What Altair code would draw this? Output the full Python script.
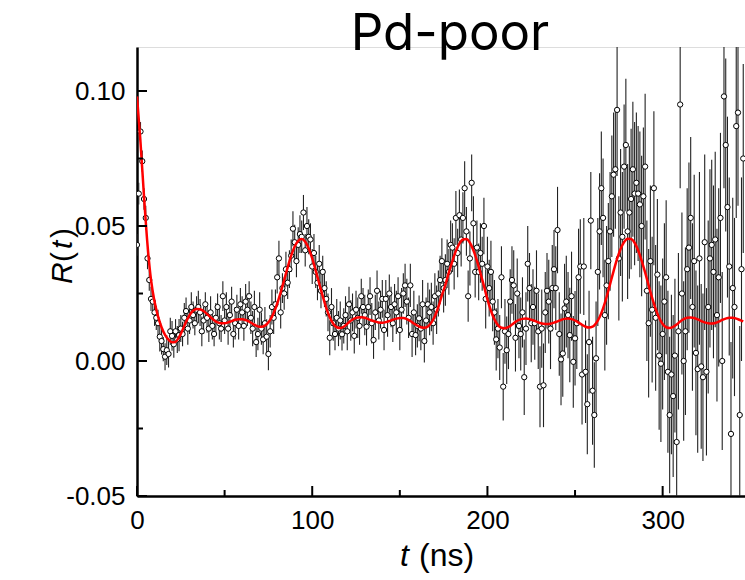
import altair as alt
import pandas as pd

TITLE = "Pd-poor"
X_TITLE_ITALIC = "t"
X_TITLE_REST = "(ns)"
Y_TITLE_PARTS = ["R", "(", "t", ")"]
Y_TITLE_STYLE = ["italic", "normal", "italic", "normal"]

# measured time bins (ns)
t_data = list(range(0, 347))

r_rows = [
    [0.043, 0.062, 0.085, 0.074, 0.060, 0.053, 0.038, 0.030, 0.023, 0.022],
    [0.018, 0.016, 0.014, 0.009, 0.0074, 0.0044, 0.0016, 0.004, 0.0026, 0.011],
    [0.0093, 0.0062, 0.011, 0.008, 0.0096, 0.012, 0.010, 0.016, 0.0185, 0.012],
    [0.015, 0.020, 0.017, 0.014, 0.019, 0.020, 0.018, 0.011, 0.015, 0.021],
    [0.016, 0.012, 0.018, 0.013, 0.010, 0.016, 0.020, 0.014, 0.012, 0.024],
    [0.015, 0.020, 0.012, 0.017, 0.022, 0.010, 0.014, 0.019, 0.013, 0.021],
    [0.018, 0.013, 0.022, 0.019, 0.024, 0.016, 0.012, 0.020, 0.007, 0.010],
    [0.019, 0.012, 0.008, 0.014, 0.009, 0.0026, 0.011, 0.020, 0.016, 0.021],
    [0.031, 0.038, 0.018, 0.027, 0.025, 0.034, 0.029, 0.034, 0.039, 0.049],
    [0.044, 0.037, 0.043, 0.047, 0.046, 0.055, 0.041, 0.050, 0.046, 0.045],
    [0.035, 0.040, 0.033, 0.029, 0.036, 0.026, 0.033, 0.027, 0.023, 0.018],
    [0.0086, 0.020, 0.014, 0.010, 0.016, 0.012, 0.015, 0.0099, 0.013, 0.017],
    [0.011, 0.021, 0.015, 0.018, 0.0093, 0.019, 0.016, 0.013, 0.024, 0.020],
    [0.017, 0.0127, 0.020, 0.024, 0.014, 0.0078, 0.018, 0.026, 0.015, 0.019],
    [0.023, 0.0115, 0.023, 0.017, 0.025, 0.020, 0.014, 0.021, 0.018, 0.024],
    [0.0115, 0.019, 0.025, 0.028, 0.022, 0.016, 0.028, 0.010, 0.018, 0.0096],
    [0.013, 0.0158, 0.012, 0.021, 0.0074, 0.015, 0.021, 0.018, 0.020, 0.014],
    [0.024, 0.019, 0.025, 0.030, 0.037, 0.027, 0.030, 0.036, 0.033, 0.043],
    [0.042, 0.036, 0.053, 0.040, 0.054, 0.045, 0.053, 0.064, 0.048, 0.024],
    [0.038, 0.066, 0.051, 0.033, 0.042, 0.033, 0.040, 0.036, 0.050, 0.023],
    [0.035, 0.027, 0.033, 0.022, 0.018, 0.008, 0.012, 0.005, 0.031, -0.0095],
    [0.011, 0.004, 0.010, 0.022, 0.030, 0.028, 0.0086, 0.025, 0.013, 0.010],
    [0.018, -0.006, 0.012, 0.036, 0.027, 0.014, 0.020, 0.014, 0.026, 0.011],
    [-0.0095, 0.012, -0.009, 0.018, 0.026, 0.022, 0.012, 0.027, 0.034, 0.027],
    [0.0485, 0.010, 0.0006, 0.0028, 0.0195, 0.022, 0.017, 0.0096, 0.024, -0.0003],
    [0.0084, 0.014, 0.031, 0.035, -0.005, 0.035, -0.004, -0.016, 0.007, 0.052],
    [-0.011, -0.020, 0.001, 0.033, 0.048, 0.064, 0.053, 0.017, 0.028, 0.037],
    [0.048, 0.061, 0.069, 0.071, 0.093, 0.038, 0.055, 0.046, 0.072, 0.080],
    [0.048, 0.055, 0.060, 0.071, 0.062, 0.066, 0.062, 0.058, 0.050, 0.061],
    [0.072, 0.026, 0.014, 0.037, 0.019, 0.064, 0.016, 0.032, 0.002, -0.001],
    [0.010, 0.022, 0.031, -0.004, -0.020, -0.005, -0.013, 0.002, -0.030, 0.011],
    [0.095, 0.025, 0.000, 0.011, 0.034, 0.042, 0.053, 0.020, 0.037, 0.003],
    [-0.003, 0.038, -0.002, -0.006, 0.044, -0.004, 0.020, 0.038, 0.043, 0.033],
    [0.045, 0.017, 0.031, 0.053, 0.000, 0.098, 0.080, 0.057, 0.035, -0.027],
    [0.027, 0.020, 0.087, 0.092, -0.020, 0.034, 0.075],
]

err_rows = [
    [0.004, 0.004, 0.0035, 0.004, 0.004, 0.0045, 0.004, 0.004, 0.0045, 0.004],
    [0.005, 0.0045, 0.005, 0.0055, 0.005, 0.0045, 0.005, 0.0055, 0.005, 0.005],
    [0.0055, 0.005, 0.0045, 0.005, 0.006, 0.005, 0.0045, 0.0055, 0.005, 0.006],
    [0.005, 0.0055, 0.005, 0.0045, 0.005, 0.006, 0.005, 0.0055, 0.005, 0.0045],
    [0.0055, 0.005, 0.006, 0.005, 0.0045, 0.0055, 0.005, 0.006, 0.005, 0.0055],
    [0.005, 0.0055, 0.006, 0.005, 0.0055, 0.005, 0.006, 0.0055, 0.005, 0.006],
    [0.006, 0.0055, 0.0065, 0.006, 0.0055, 0.006, 0.0065, 0.006, 0.0055, 0.006],
    [0.0065, 0.006, 0.0055, 0.006, 0.0065, 0.006, 0.006, 0.0065, 0.006, 0.0055],
    [0.006, 0.0065, 0.006, 0.0055, 0.006, 0.0065, 0.006, 0.007, 0.006, 0.0065],
    [0.0065, 0.006, 0.0065, 0.007, 0.006, 0.0065, 0.006, 0.007, 0.0065, 0.006],
    [0.0065, 0.007, 0.006, 0.0065, 0.007, 0.0065, 0.006, 0.007, 0.0065, 0.007],
    [0.0065, 0.007, 0.0065, 0.006, 0.007, 0.0065, 0.007, 0.006, 0.0065, 0.007],
    [0.007, 0.0065, 0.0075, 0.007, 0.0065, 0.007, 0.0075, 0.007, 0.0065, 0.007],
    [0.0075, 0.007, 0.0065, 0.007, 0.0075, 0.007, 0.0065, 0.0075, 0.007, 0.007],
    [0.007, 0.0075, 0.007, 0.008, 0.007, 0.0075, 0.007, 0.0075, 0.008, 0.007],
    [0.0075, 0.008, 0.0075, 0.008, 0.0085, 0.0075, 0.008, 0.0085, 0.008, 0.0075],
    [0.008, 0.0085, 0.008, 0.009, 0.008, 0.0085, 0.008, 0.0085, 0.009, 0.008],
    [0.0085, 0.009, 0.0085, 0.009, 0.0085, 0.009, 0.0095, 0.009, 0.0085, 0.009],
    [0.009, 0.0095, 0.010, 0.009, 0.0095, 0.010, 0.0095, 0.010, 0.009, 0.0095],
    [0.010, 0.0105, 0.010, 0.0095, 0.010, 0.0105, 0.011, 0.010, 0.0105, 0.011],
    [0.011, 0.0105, 0.0115, 0.011, 0.012, 0.0115, 0.011, 0.012, 0.0115, 0.0125],
    [0.012, 0.0125, 0.013, 0.012, 0.0125, 0.013, 0.0125, 0.013, 0.012, 0.0135],
    [0.013, 0.014, 0.0135, 0.014, 0.013, 0.0145, 0.014, 0.0135, 0.015, 0.014],
    [0.015, 0.0145, 0.0155, 0.015, 0.014, 0.0155, 0.015, 0.016, 0.0145, 0.0155],
    [0.016, 0.0155, 0.017, 0.016, 0.0165, 0.017, 0.016, 0.0175, 0.0165, 0.017],
    [0.0175, 0.017, 0.018, 0.0175, 0.0185, 0.018, 0.019, 0.0185, 0.019, 0.018],
    [0.020, 0.0195, 0.021, 0.020, 0.0215, 0.021, 0.022, 0.0205, 0.022, 0.0215],
    [0.022, 0.0225, 0.023, 0.022, 0.0245, 0.023, 0.0235, 0.024, 0.023, 0.0245],
    [0.025, 0.0245, 0.026, 0.025, 0.0265, 0.026, 0.025, 0.027, 0.026, 0.0255],
    [0.027, 0.026, 0.0275, 0.028, 0.027, 0.0285, 0.027, 0.028, 0.0275, 0.029],
    [0.028, 0.029, 0.0285, 0.030, 0.029, 0.0295, 0.030, 0.0285, 0.031, 0.029],
    [0.031, 0.030, 0.0295, 0.031, 0.030, 0.0315, 0.030, 0.031, 0.032, 0.0305],
    [0.031, 0.032, 0.0305, 0.031, 0.0325, 0.031, 0.032, 0.033, 0.0315, 0.032],
    [0.0325, 0.032, 0.033, 0.0315, 0.033, 0.034, 0.032, 0.0335, 0.033, 0.034],
    [0.0335, 0.033, 0.034, 0.0345, 0.033, 0.034, 0.035],
]

# fitted curve, sampled every 2 ns
fit_t = list(range(0, 348, 2))
fit_rows = [
    [0.098, 0.081, 0.061, 0.043, 0.030, 0.022, 0.0165, 0.0125, 0.0097, 0.0079],
    [0.0069, 0.0071, 0.0088, 0.0115, 0.0145, 0.0170, 0.0186, 0.0193, 0.0192, 0.0185],
    [0.0174, 0.0162, 0.0151, 0.0143, 0.0140, 0.0140, 0.0143, 0.0148, 0.0153, 0.0155],
    [0.0155, 0.0152, 0.0146, 0.0138, 0.0131, 0.0127, 0.0128, 0.0136, 0.0152, 0.0178],
    [0.0212, 0.0254, 0.0300, 0.0347, 0.0390, 0.0424, 0.0445, 0.0452, 0.0442, 0.0417],
    [0.0380, 0.0335, 0.0287, 0.0240, 0.0197, 0.0162, 0.0138, 0.0125, 0.0122, 0.0127],
    [0.0138, 0.0149, 0.0157, 0.0161, 0.0162, 0.0160, 0.0155, 0.0150, 0.0146, 0.0143],
    [0.0142, 0.0144, 0.0148, 0.0153, 0.0157, 0.0159, 0.0159, 0.0155, 0.0148, 0.0139],
    [0.0131, 0.0125, 0.0123, 0.0128, 0.0142, 0.0166, 0.0200, 0.0243, 0.0282, 0.0328],
    [0.0370, 0.0408, 0.0435, 0.0450, 0.0452, 0.0438, 0.0410, 0.0372, 0.0326, 0.0278],
    [0.0228, 0.0186, 0.0154, 0.0133, 0.0123, 0.0121, 0.0126, 0.0135, 0.0145, 0.0152],
    [0.0156, 0.0157, 0.0155, 0.0151, 0.0146, 0.0141, 0.0138, 0.0137, 0.0138, 0.0142],
    [0.0147, 0.0152, 0.0156, 0.0157, 0.0155, 0.0150, 0.0142, 0.0134, 0.0127, 0.0124],
    [0.0127, 0.0140, 0.0162, 0.0195, 0.0237, 0.0285, 0.0333, 0.0378, 0.0415, 0.0441],
    [0.0453, 0.0452, 0.0438, 0.0410, 0.0372, 0.0328, 0.0280, 0.0234, 0.0193, 0.0160],
    [0.0137, 0.0125, 0.0122, 0.0126, 0.0135, 0.0146, 0.0155, 0.0160, 0.0161, 0.0159],
    [0.0154, 0.0148, 0.0143, 0.0140, 0.0139, 0.0141, 0.0146, 0.0152, 0.0157, 0.0160],
    [0.0160, 0.0157, 0.0152, 0.0147],
]

x_major = [0, 100, 200, 300]
x_minor = [50, 150, 250]
y_major = [-0.05, 0.0, 0.05, 0.10]
y_minor = [-0.025, 0.025, 0.075]

r_data = [v for row in r_rows for v in row]
err_data = [v for row in err_rows for v in row]
fit_r = [v for row in fit_rows for v in row]

n = min(len(t_data), len(r_data), len(err_data))
df = pd.DataFrame({"t": t_data[:n], "r": r_data[:n], "err": err_data[:n]})
df["lo"] = df["r"] - df["err"]
df["hi"] = df["r"] + df["err"]
m = min(len(fit_t), len(fit_r))
fit = pd.DataFrame({"t": fit_t[:m], "r": fit_r[:m]})

W, H = 608, 449
LABEL_FONT = "Liberation Sans"

xscale = alt.Scale(domain=[0, 347], nice=False, zero=False)
yscale = alt.Scale(domain=[-0.05, 0.1163], nice=False, zero=False)

xaxis = alt.Axis(
    values=x_major, format="d", ticks=False, grid=False, title=None,
    domainColor="black", domainWidth=2.5, labelFont=LABEL_FONT,
    labelFontSize=26, labelColor="black", labelPadding=11,
    labelFlush=False, labelOverlap=False,
)
yaxis = alt.Axis(
    values=y_major, ticks=False, grid=False, title=None,
    labelExpr="replace(format(datum.value, '.2f'), '\u2212', '-')",
    domainColor="black", domainWidth=2.5, labelFont=LABEL_FONT,
    labelFontSize=26, labelColor="black", labelPadding=12,
    labelFlush=False, labelOverlap=False,
)


def X(field):
    return alt.X(field, type="quantitative", scale=xscale, axis=xaxis)


def Y(field):
    return alt.Y(field, type="quantitative", scale=yscale, axis=yaxis)


bars = alt.Chart(df).mark_rule(color="#222222", strokeWidth=1.1, clip=True).encode(
    x=X("t"), y=Y("lo"), y2="hi"
)
points = alt.Chart(df).mark_point(
    shape="circle", filled=True, fill="white", stroke="black",
    strokeWidth=1, size=28, opacity=1, clip=True,
).encode(x=X("t"), y=Y("r"))
curve = alt.Chart(fit).mark_line(
    color="#ff0000", strokeWidth=2.5, interpolate="monotone", clip=True
).encode(x=X("t"), y=Y("r"))

xt_major = alt.Chart(pd.DataFrame({"v": x_major})).mark_rule(color="black", strokeWidth=2).encode(
    x=X("v"), y=alt.value(H), y2=alt.value(H - 10))
xt_minor = alt.Chart(pd.DataFrame({"v": x_minor})).mark_rule(color="black", strokeWidth=2).encode(
    x=X("v"), y=alt.value(H), y2=alt.value(H - 6))
yt_major = alt.Chart(pd.DataFrame({"v": y_major})).mark_rule(color="black", strokeWidth=2).encode(
    y=Y("v"), x=alt.value(0), x2=alt.value(10))
yt_minor = alt.Chart(pd.DataFrame({"v": y_minor})).mark_rule(color="black", strokeWidth=2).encode(
    y=Y("v"), x=alt.value(0), x2=alt.value(6))

title = alt.Chart(pd.DataFrame({"label": [TITLE]})).mark_text(
    font="Inter", fontSize=51, align="center", baseline="alphabetic", color="black"
).encode(x=alt.value(313), y=alt.value(3), text="label:N")

xt1 = alt.Chart(pd.DataFrame({"label": [X_TITLE_ITALIC]})).mark_text(
    font=LABEL_FONT, fontSize=32, fontStyle="italic", align="left", baseline="alphabetic", color="black"
).encode(x=alt.value(263), y=alt.value(519), text="label:N")
xt2 = alt.Chart(pd.DataFrame({"label": [X_TITLE_REST]})).mark_text(
    font=LABEL_FONT, fontSize=32, align="left", baseline="alphabetic", color="black"
).encode(x=alt.value(282), y=alt.value(519), text="label:N")

y_title_pos = [237, 215, 202, 191]
ytitle_layers = []
for part, style, ypos in zip(Y_TITLE_PARTS, Y_TITLE_STYLE, y_title_pos):
    ytitle_layers.append(
        alt.Chart(pd.DataFrame({"label": [part]})).mark_text(
            font=LABEL_FONT, fontSize=30, fontStyle=style, angle=270,
            align="left", baseline="alphabetic", color="black",
        ).encode(x=alt.value(-65), y=alt.value(ypos), text="label:N")
    )

chart = alt.layer(
    bars, points, curve, xt_major, xt_minor, yt_major, yt_minor, title, xt1, xt2, *ytitle_layers
).properties(
    width=W, height=H,
    autosize=alt.AutoSizeParams(type="none"),
    padding={"left": 137, "top": 47, "right": 0, "bottom": 84},
).configure_view(stroke=None).configure(background="white")

chart.save("out.html", embed_options={"renderer": "svg", "actions": False})
